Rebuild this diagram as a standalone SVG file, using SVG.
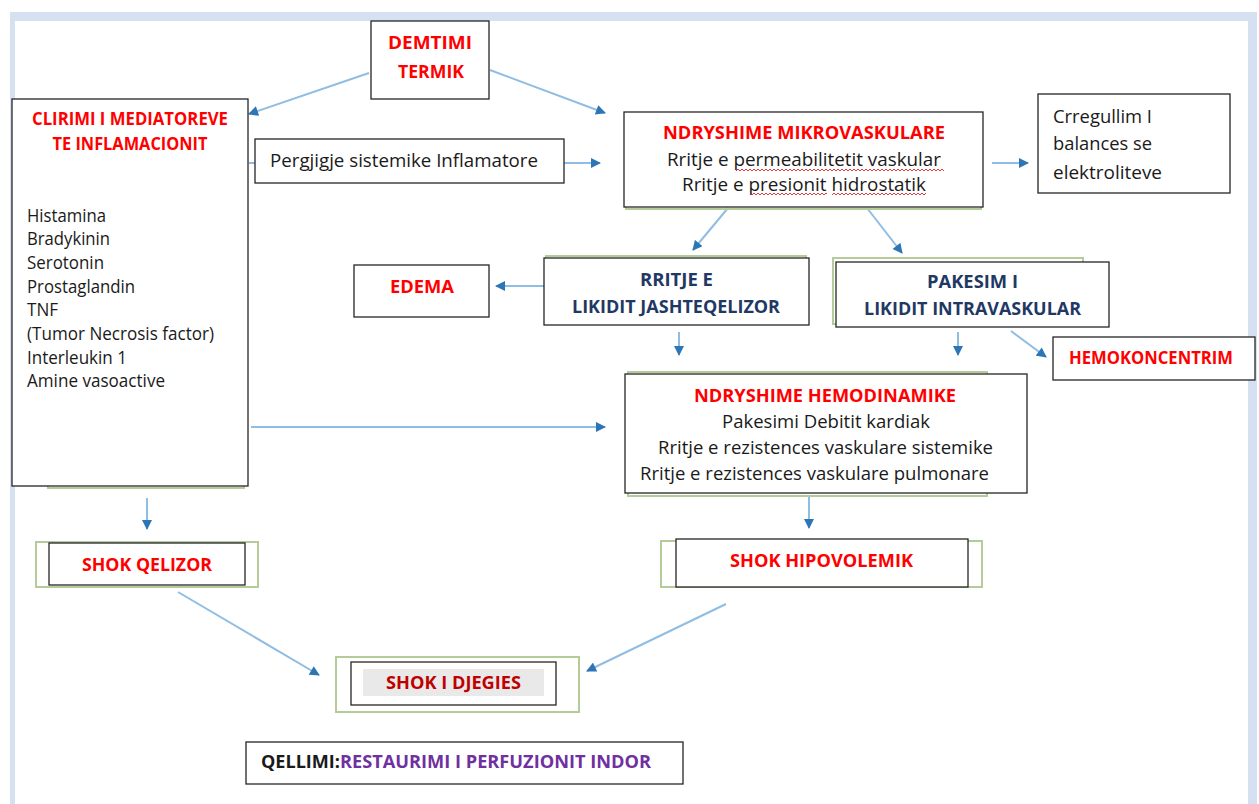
<svg xmlns="http://www.w3.org/2000/svg" width="1259" height="804" viewBox="0 0 1259 804">
<style>
.box{fill:#fff;stroke:#262626;stroke-width:1.3}
.gs{fill:none;stroke:#b3cc9a;stroke-width:2}
.t{font-family:"Open Sans","Liberation Sans",sans-serif;font-size:18px;fill:#1a1a1a}
.b{font-weight:bold}
.red{fill:#ff0000}
.navy{fill:#1f3864}
.dred{fill:#c00000}
.pur{fill:#7030a0}
.c{text-anchor:middle}
.ln{stroke:#8fbde3;stroke-width:2;fill:none;marker-end:url(#ah)}
</style>
<defs>
<marker id="ah" viewBox="0 0 10 10" refX="9" refY="5" markerWidth="11" markerHeight="10" markerUnits="userSpaceOnUse" orient="auto">
<path d="M0,0 L10,5 L0,10 z" fill="#2e75b6"/>
</marker>
<pattern id="sq" patternUnits="userSpaceOnUse" width="4" height="4">
<polyline points="0,3 2,1 4,3" fill="none" stroke="#e02020" stroke-width="0.9"/>
</pattern>
</defs>
<rect x="10" y="12" width="1247" height="800" fill="#d5e0f1"/>
<rect x="15" y="21" width="1233" height="790" fill="#fff"/>

<g id="connectors">
<line class="ln" x1="369" y1="73" x2="249" y2="114"/>
<line class="ln" x1="490" y1="70" x2="605" y2="113"/>
<line class="ln" x1="249" y1="163" x2="600" y2="163"/>
<line class="ln" x1="992" y1="163" x2="1028" y2="163"/>
<line class="ln" x1="728" y1="208" x2="693" y2="250"/>
<line class="ln" x1="867" y1="208" x2="902" y2="253"/>
<line class="ln" x1="544" y1="286" x2="496" y2="286"/>
<line class="ln" x1="679" y1="332" x2="679" y2="355"/>
<line class="ln" x1="958" y1="332" x2="958" y2="355"/>
<line class="ln" x1="1011" y1="331" x2="1046" y2="357"/>
<line class="ln" x1="251" y1="427" x2="605" y2="427"/>
<line class="ln" x1="147" y1="498" x2="147" y2="529"/>
<line class="ln" x1="809" y1="497" x2="809" y2="528"/>
<line class="ln" x1="178" y1="592" x2="319" y2="675"/>
<line class="ln" x1="726" y1="604" x2="587" y2="671"/>
</g>

<g id="demtimi">
<rect class="box" x="371" y="21" width="118" height="78"/>
<text class="t b red c" x="430" y="49" textLength="84" lengthAdjust="spacingAndGlyphs">DEMTIMI</text>
<text class="t b red c" x="431" y="78" textLength="66" lengthAdjust="spacingAndGlyphs">TERMIK</text>
</g>

<g id="clirimi">
<rect class="gs" x="48" y="100" width="196" height="388"/>
<rect class="box" x="12" y="99" width="236" height="387"/>
<text class="t b red c" x="130" y="125" textLength="196" lengthAdjust="spacingAndGlyphs">CLIRIMI I MEDIATOREVE</text>
<text class="t b red c" x="130" y="150" textLength="155" lengthAdjust="spacingAndGlyphs">TE INFLAMACIONIT</text>
<text class="t" x="27" y="221.5" textLength="79" lengthAdjust="spacingAndGlyphs">Histamina</text>
<text class="t" x="27" y="245.2" textLength="83" lengthAdjust="spacingAndGlyphs">Bradykinin</text>
<text class="t" x="27" y="268.9" textLength="77" lengthAdjust="spacingAndGlyphs">Serotonin</text>
<text class="t" x="27" y="292.6" textLength="108" lengthAdjust="spacingAndGlyphs">Prostaglandin</text>
<text class="t" x="27" y="316.3" textLength="31" lengthAdjust="spacingAndGlyphs">TNF</text>
<text class="t" x="27" y="340" textLength="187" lengthAdjust="spacingAndGlyphs">(Tumor Necrosis factor)</text>
<text class="t" x="27" y="363.7" textLength="100" lengthAdjust="spacingAndGlyphs">Interleukin 1</text>
<text class="t" x="27" y="387.4" textLength="138" lengthAdjust="spacingAndGlyphs">Amine vasoactive</text>
</g>

<g id="pergjigje">
<rect class="box" x="255" y="139" width="309" height="44"/>
<text class="t" x="270" y="167" textLength="268" lengthAdjust="spacingAndGlyphs">Pergjigje sistemike Inflamatore</text>
</g>

<g id="mikrovaskulare">
<rect class="gs" x="626" y="113" width="355" height="96"/>
<rect class="box" x="624" y="112" width="359" height="95"/>
<text class="t b red c" x="804" y="139" textLength="282" lengthAdjust="spacingAndGlyphs">NDRYSHIME MIKROVASKULARE</text>
<text class="t c" x="804" y="166" textLength="274" lengthAdjust="spacingAndGlyphs">Rritje e permeabilitetit vaskular</text>
<text class="t c" x="804" y="191" textLength="244" lengthAdjust="spacingAndGlyphs">Rritje e presionit hidrostatik</text>
<rect x="736" y="168" width="208" height="4" fill="url(#sq)"/>
<rect x="751" y="193" width="76" height="4" fill="url(#sq)"/>
<rect x="832" y="193" width="94" height="4" fill="url(#sq)"/>
</g>

<g id="crregullim">
<rect class="box" x="1038" y="94" width="192" height="99"/>
<text class="t" x="1053" y="123" textLength="99" lengthAdjust="spacingAndGlyphs">Crregullim I</text>
<text class="t" x="1053" y="150" textLength="99" lengthAdjust="spacingAndGlyphs">balances se</text>
<text class="t" x="1053" y="179" textLength="109" lengthAdjust="spacingAndGlyphs">elektroliteve</text>
</g>

<g id="edema">
<rect class="box" x="354" y="265" width="135" height="52"/>
<text class="t b red c" x="422" y="293" textLength="64" lengthAdjust="spacingAndGlyphs">EDEMA</text>
</g>

<g id="rritje">
<rect class="gs" x="546" y="256" width="260" height="66"/>
<rect class="box" x="544" y="258" width="265" height="67"/>
<text class="t b navy c" x="676.5" y="286" textLength="73" lengthAdjust="spacingAndGlyphs">RRITJE E</text>
<text class="t b navy c" x="676" y="313" textLength="208" lengthAdjust="spacingAndGlyphs">LIKIDIT JASHTEQELIZOR</text>
</g>

<g id="pakesim">
<rect class="gs" x="833" y="258" width="250" height="66"/>
<rect class="box" x="836" y="262" width="273" height="65"/>
<text class="t b navy c" x="972.5" y="288" textLength="91" lengthAdjust="spacingAndGlyphs">PAKESIM I</text>
<text class="t b navy c" x="972.5" y="315" textLength="217" lengthAdjust="spacingAndGlyphs">LIKIDIT INTRAVASKULAR</text>
</g>

<g id="hemokoncentrim">
<rect class="box" x="1053" y="337" width="202" height="43"/>
<text class="t b red c" x="1151" y="364" textLength="164" lengthAdjust="spacingAndGlyphs">HEMOKONCENTRIM</text>
</g>

<g id="hemodinamike">
<rect class="gs" x="628" y="372" width="359" height="124"/>
<rect class="box" x="625" y="374" width="402" height="119"/>
<text class="t b red c" x="825" y="402" textLength="262" lengthAdjust="spacingAndGlyphs">NDRYSHIME  HEMODINAMIKE</text>
<text class="t c" x="826" y="428" textLength="208" lengthAdjust="spacingAndGlyphs">Pakesimi Debitit kardiak</text>
<text class="t c" x="825.5" y="454" textLength="335" lengthAdjust="spacingAndGlyphs">Rritje e rezistences vaskulare sistemike</text>
<text class="t c" x="814.5" y="480" textLength="349" lengthAdjust="spacingAndGlyphs">Rritje e rezistences vaskulare pulmonare</text>
</g>

<g id="shok-qelizor">
<rect class="gs" x="36" y="542" width="222" height="45"/>
<rect class="box" x="49" y="543" width="196" height="42"/>
<text class="t b red c" x="147" y="571" textLength="130" lengthAdjust="spacingAndGlyphs">SHOK QELIZOR</text>
</g>

<g id="shok-hipovolemik">
<rect class="gs" x="661" y="541" width="321" height="46"/>
<rect class="box" x="676" y="539" width="292" height="48"/>
<text class="t b red c" x="821.5" y="567" textLength="183" lengthAdjust="spacingAndGlyphs">SHOK HIPOVOLEMIK</text>
</g>

<g id="shok-djegies">
<rect class="gs" x="336" y="657" width="243" height="55"/>
<rect class="box" x="351" y="662" width="205" height="43"/>
<rect x="363" y="669" width="181" height="27" fill="#e9e9e9"/>
<text class="t b dred c" x="453.5" y="689" textLength="135" lengthAdjust="spacingAndGlyphs">SHOK I DJEGIES</text>
</g>

<g id="qellimi">
<rect class="box" x="246" y="742" width="437" height="42"/>
<text class="t b" x="261" y="768" font-size="17" textLength="79" lengthAdjust="spacingAndGlyphs">QELLIMI:</text>
<text class="t b pur" x="340" y="768" font-size="17" textLength="311" lengthAdjust="spacingAndGlyphs">RESTAURIMI I PERFUZIONIT INDOR</text>
</g>
</svg>
